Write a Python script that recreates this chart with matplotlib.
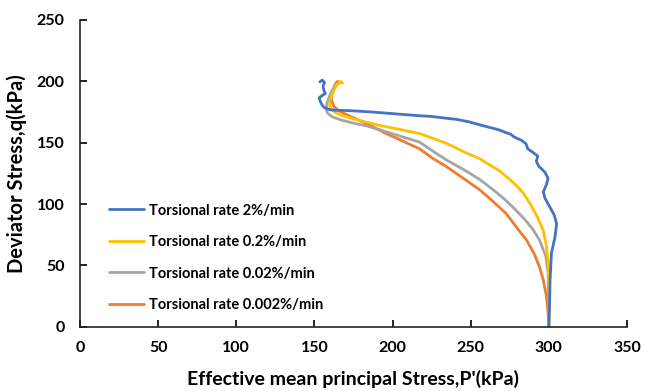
import matplotlib
matplotlib.use("Agg")
import matplotlib.pyplot as plt

# ---- data ----
blue_p = [300, 300.5, 300.8, 301.7, 304, 305, 303.5, 300.5, 297.5, 296.5, 298.5, 299.5, 297.5, 293.5,
          292, 293, 290, 286.5, 285.5, 282.5, 278, 275.5, 272, 268, 262, 256, 249, 241, 234, 224,
          217, 207, 197, 187, 177, 169, 163, 159.5, 156.5, 155, 154, 153, 155, 157, 156, 155.5,
          156.5, 155, 153.5]
blue_q = [0, 20, 38, 60, 73.5, 84, 91, 98, 105, 110, 116, 121, 126, 131,
          135, 139, 142, 145, 149, 152, 154.5, 157, 158.5, 160.5, 162.5, 164.5, 167, 169, 170, 171.5,
          172, 173, 174, 175, 175.8, 176.3, 176.5, 177, 178.5, 180.5, 183, 186.5, 188.5, 190, 193, 196,
          199, 201, 199.5]

yellow_p = [300, 300.5, 300.6, 299.6, 298.5, 296.3, 292.5, 287.8, 283.6, 279, 275, 268.6, 262, 255.8,
            246.6, 234.4, 226, 217.3, 204, 192, 184, 175, 168, 163.5, 161, 159.8, 160, 161.2, 163,
            165, 167, 168]
yellow_q = [0, 12, 24.7, 51.9, 66, 79, 90, 101, 109, 115.5, 120, 127, 132, 137,
            142, 149.6, 153.5, 157.5, 161, 164, 166.5, 169.5, 172, 174.5, 177, 180, 184, 189, 194,
            198, 200, 198.5]

gray_p = [300, 299.8, 299.6, 298, 294, 290, 285, 279, 273, 267, 261, 255.8, 247, 234.4, 226,
          217.3, 204.5, 192, 184, 175, 167, 161.5, 158.5, 157.5, 158, 159.6, 161.5, 163.6, 165]
gray_q = [0, 20, 43.7, 58, 70.8, 79, 87, 95, 102.5, 109, 115, 120, 127, 136, 143,
          150.5, 155.5, 160.5, 163.5, 166, 168.5, 171, 174, 177, 182, 187.6, 193, 197, 198]

orange_p = [300, 299.5, 298.5, 296.5, 294, 290.5, 285.7, 280, 272.5, 264, 255.8, 247, 234.4, 226,
            217.3, 204.5, 195, 187.4, 180, 173, 168, 164.9, 162.5, 161.6, 160.8, 161.5, 163.6, 165, 166]
orange_q = [0, 12, 24.7, 38, 49, 60, 70.8, 80, 92.6, 102.5, 111.6, 119.5, 130.6, 137,
            145, 152.5, 158, 163, 167.5, 171.5, 174.5, 176.7, 179.5, 182, 186, 191, 198.4, 200, 198.5]

series_labels = ["Torsional rate 2%/min", "Torsional rate 0.2%/min",
                 "Torsional rate 0.02%/min", "Torsional rate 0.002%/min"]
colors = ["#4472C4", "#FFC000", "#A5A5A5", "#ED7D31"]

x_ticks = [0, 50, 100, 150, 200, 250, 300, 350]
y_ticks = [0, 50, 100, 150, 200, 250]

plt.rcParams['font.family'] = ['Lato', 'DejaVu Sans']

fig = plt.figure(figsize=(6.45, 3.91), dpi=100)
ax = fig.add_axes([0.124, 0.164, 0.848, 0.785])

data = [(blue_p, blue_q), (yellow_p, yellow_q), (gray_p, gray_q), (orange_p, orange_q)]
order = [3, 2, 1, 0]
lines = {}
for i in order:
    p, q = data[i]
    ln, = ax.plot(p, q, color=colors[i], lw=2.0, label=series_labels[i],
                  solid_joinstyle='round', solid_capstyle='round')
    lines[i] = ln

ax.set_xlim(0, 350)
ax.set_ylim(0, 250)
ax.set_xticks(x_ticks)
ax.set_yticks(y_ticks)
ax.tick_params(direction='in', length=5, width=1.2, labelsize=11.5)
ax.tick_params(axis='x', pad=10)
ax.tick_params(axis='y', pad=11)
for lab in ax.get_xticklabels() + ax.get_yticklabels():
    lab.set_fontweight('bold')
for s in ['top', 'right']:
    ax.spines[s].set_visible(False)
for s in ['left', 'bottom']:
    ax.spines[s].set_linewidth(1.2)
    ax.spines[s].set_color('#222222')

ax.set_xlabel("Effective mean principal Stress,P'(kPa)", fontsize=14, fontweight='bold', labelpad=11)
ax.set_ylabel("Deviator Stress,q(kPa)", fontsize=14.5, fontweight='bold', labelpad=7)

leg = ax.legend([lines[i] for i in range(4)], series_labels, loc='upper left',
                bbox_to_anchor=(0.148, 0.513), bbox_transform=fig.transFigure,
                frameon=False, fontsize=10.5, handlelength=2.4, handletextpad=0.4,
                labelspacing=1.2)
for t in leg.get_texts():
    t.set_fontweight('bold')

fig.savefig("out.png", dpi=100)
